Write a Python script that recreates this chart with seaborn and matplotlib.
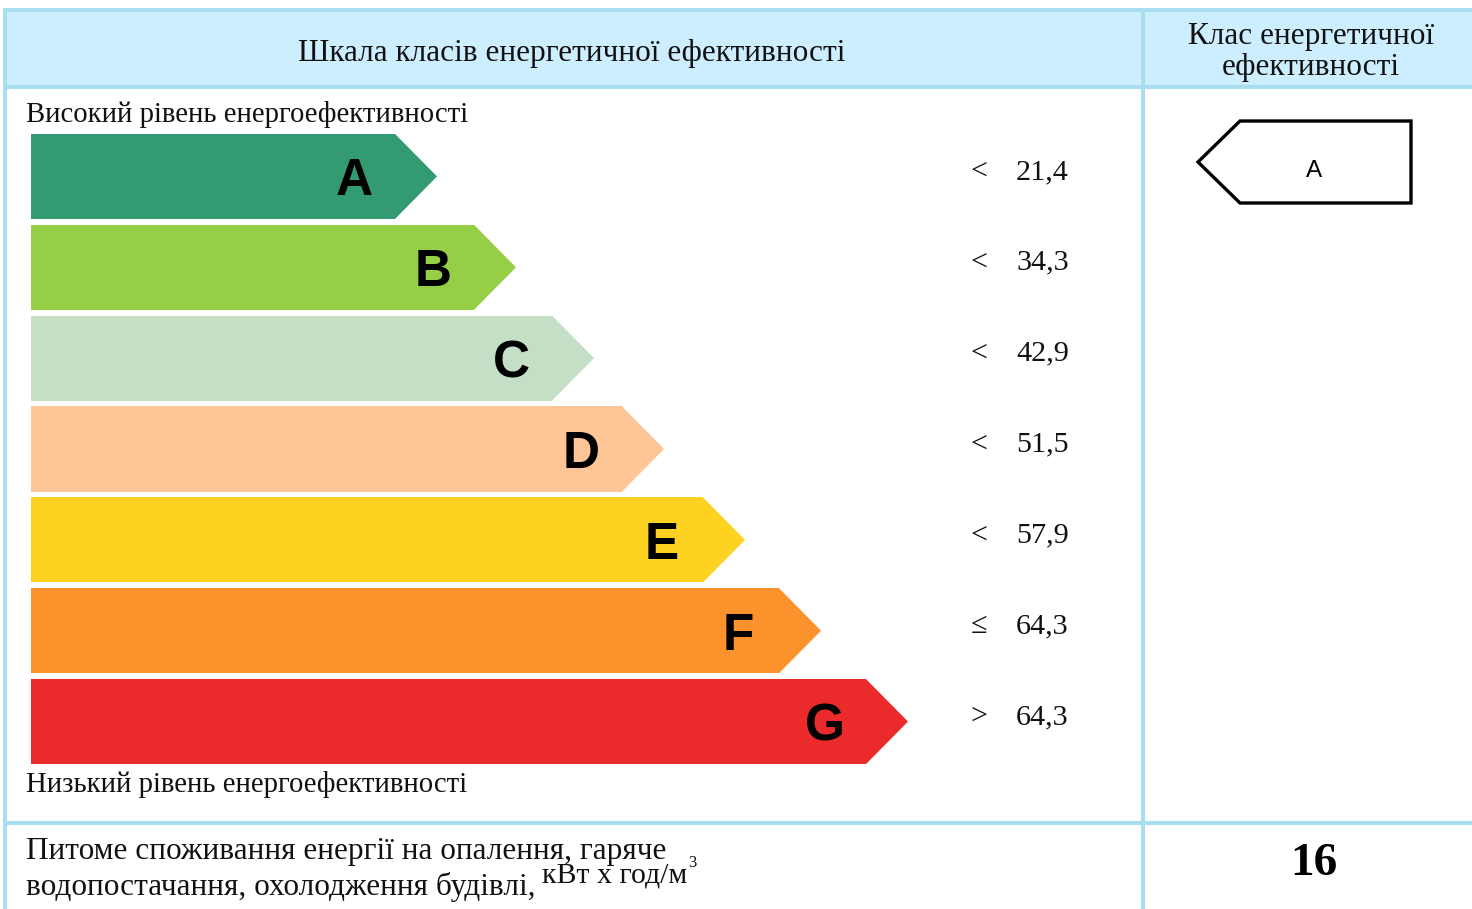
import matplotlib
matplotlib.use("Agg")
import matplotlib.pyplot as plt
from matplotlib.patches import Polygon, Rectangle
import seaborn as sns
import pandas as pd

# ---- data ----
classes = ["A", "B", "C", "D", "E", "F", "G"]
bar_lengths = [364, 443, 521, 591, 672, 748, 835]  # relative bar lengths of the scale
colors = ["#339b72", "#96cf45", "#c4dfc6", "#fec596", "#fed221", "#fc922b", "#eb2b2b"]
signs = ["<", "<", "<", "<", "<", "≤", ">"]
thresholds = ["21,4", "34,3", "42,9", "51,5", "57,9", "64,3", "64,3"]
building_class = "A"
consumption = "16"

header_left = "Шкала класів енергетичної ефективності"
header_right = "Клас енергетичної\nефективності"
top_note = "Високий рівень енергоефективності"
bottom_note = "Низький рівень енергоефективності"
footer_lines = ["Питоме споживання енергії на опалення, гаряче",
                "водопостачання, охолодження будівлі,"]
unit = "кВт х год/м"

SERIF = "Liberation Serif"
SANS = "Liberation Sans"
LINE = "#a9def0"
HEAD = "#cdeefe"
TXT = "#111111"

sns.set_theme(style="white")
W, H = 1472, 909
fig = plt.figure(figsize=(W / 100, H / 100), dpi=100)
fig.patch.set_facecolor("white")

# background / table axes in pixel coordinates
bg = fig.add_axes([0, 0, 1, 1])
bg.set_xlim(0, W)
bg.set_ylim(H, 0)
bg.axis("off")

bg.add_patch(Rectangle((5, 10), W - 5, 77, facecolor=HEAD, edgecolor="none", zorder=1))
lw = 2.9
for (x0, x1, y0, y1) in [(5, W, 10, 10), (5, W, 87, 87), (5, W, 823, 823),
                         (5, 5, 8, H), (1143, 1143, 10, H)]:
    bg.plot([x0, x1], [y0, y1], color=LINE, lw=lw, solid_capstyle="butt", zorder=2)

bg.text(572, 53, header_left, family=SERIF, fontsize=22.5, ha="center", va="center", color=TXT)
bg.text(1311, 52, header_right, family=SERIF, fontsize=22.5, ha="center", va="center",
        color=TXT, linespacing=1.05)
bg.text(26, 115, top_note, family=SERIF, fontsize=20.7, ha="left", va="center", color=TXT)
bg.text(26, 785, bottom_note, family=SERIF, fontsize=20.7, ha="left", va="center", color=TXT)
bg.text(26, 852, footer_lines[0], family=SERIF, fontsize=22.5, ha="left", va="center", color=TXT)
bg.text(26, 887, footer_lines[1], family=SERIF, fontsize=22.5, ha="left", va="center", color=TXT)
bg.text(542, 876, unit, family=SERIF, fontsize=21.5, ha="left", va="center", color=TXT)
bg.text(688, 863, "3", family=SERIF, fontsize=12, ha="left", va="center", color=TXT)
bg.text(1314, 864, consumption, family=SERIF, fontsize=34, fontweight="bold",
        ha="center", va="center", color="black")

# class indicator arrow
bg.add_patch(Polygon([(1198, 162), (1240, 121), (1411, 121), (1411, 203), (1240, 203)],
                     closed=True, facecolor="white", edgecolor="black", lw=2.4, zorder=3))
bg.text(1314, 171, building_class, family=SANS, fontsize=17.5, ha="center", va="center",
        color="black", zorder=4)

# bar axes
ax = fig.add_axes([31 / W, 1 - 767 / H, 1069 / W, 636 / H])
df = pd.DataFrame({"cls": classes, "len": bar_lengths})
bh = 0.936
sns.barplot(data=df, x="len", y="cls", hue="cls", palette=colors, orient="h",
            width=bh, saturation=1, legend=False, ax=ax, linewidth=0)
ax.set_xlim(0, 1069)
ax.set_ylim(len(classes) - 0.5, -0.5)
ax.axis("off")
ax.patch.set_alpha(0)

tip = 42
for i, (c, L, col) in enumerate(zip(classes, bar_lengths, colors)):
    ax.add_patch(Polygon([(L, i - bh / 2), (L + tip, i), (L, i + bh / 2)], closed=True,
                         facecolor=col, edgecolor="none"))
    ax.text(L - 41, i + 0.06, c, family=SANS, fontweight="bold", fontsize=37,
            ha="center", va="center", color="black")
    ax.text(948, i - 0.05, signs[i], family=SERIF, fontsize=21.7, ha="center", va="center", color=TXT)
    ax.text(985, i - 0.05, thresholds[i], family=SERIF, fontsize=21.7, ha="left", va="center", color=TXT)

fig.savefig("out.png", dpi=100)
